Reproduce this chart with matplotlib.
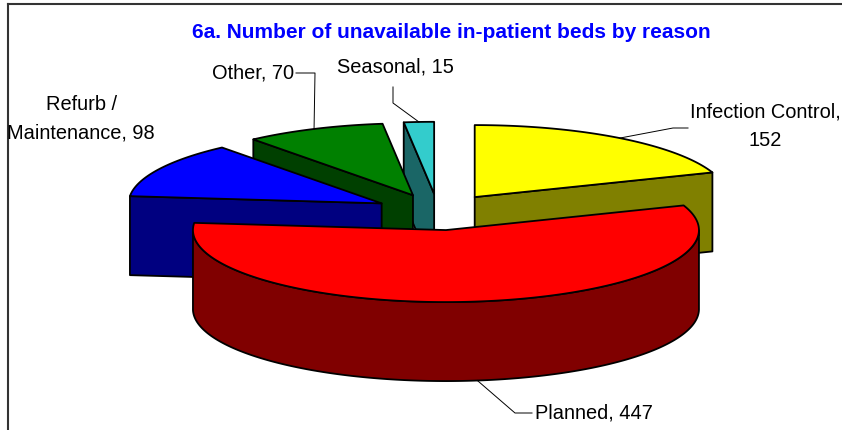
import textwrap
import numpy as np
import matplotlib
matplotlib.use("Agg")
import matplotlib.pyplot as plt
from matplotlib.patches import Polygon

# --- Data ---
categories = ["Infection Control", "Planned", "Refurb / Maintenance", "Other", "Seasonal"]
values = [152, 447, 98, 70, 15]
top_colors = ["#FFFF00", "#FF0000", "#0000FF", "#008000", "#33CCCC"]
side_colors = ["#808000", "#800000", "#000080", "#004000", "#1A6666"]
title = "6a. Number of unavailable in-patient beds by reason"

# --- Pie geometry (pixel units, y grows downwards) ---
CX, CY = 438, 212      # pie centre before explosion
RX, RY = 253, 72       # ellipse radii of the tilted disc
DEPTH = 79             # thickness of the disc
EXPLODE = 64           # how far each slice is pulled out

plt.rcParams['font.family'] = ['Liberation Sans', 'DejaVu Sans']

fig = plt.figure(figsize=(8.42, 4.30), dpi=100)
ax = fig.add_axes([0, 0, 1, 1])
ax.set_xlim(0, 842)
ax.set_ylim(430, 0)
ax.axis('off')

frac = np.array(values) / sum(values)
ends = 90 - 360 * np.cumsum(frac)      # slices run clockwise from 12 o'clock
starts = ends + 360 * frac
mids = (starts + ends) / 2


def rim(ox, oy, ang):
    a = np.radians(ang)
    return ox + RX * np.cos(a), oy - RY * np.sin(a)


def origin(mid):
    a = np.radians(mid)
    return CX + EXPLODE * np.cos(a), CY - EXPLODE * (RY / RX) * np.sin(a)


edge_kw = dict(edgecolor='black', linewidth=1.3, joinstyle='round')

# draw from the back of the disc to the front
order = np.argsort(-np.sin(np.radians(mids)))
for i in order:
    a1, a2, mid = starts[i], ends[i], mids[i]
    ox, oy = origin(mid)

    # flat radial faces (only those turned towards the viewer)
    for phi, normal in [(a1, a1 + 90), (a2, a2 - 90)]:
        if np.sin(np.radians(normal)) < -1e-6:
            px, py = rim(ox, oy, phi)
            quad = [(ox, oy), (px, py), (px, py + DEPTH), (ox, oy + DEPTH)]
            ax.add_patch(Polygon(quad, closed=True, facecolor=side_colors[i], **edge_kw))

    # curved outer wall, front half only
    angs = np.linspace(a1, a2, 400)
    front = np.sin(np.radians(angs)) <= 1e-9
    runs = np.split(angs, np.where(np.diff(front.astype(int)) != 0)[0] + 1)
    for run in runs:
        if len(run) < 2 or np.sin(np.radians(run.mean())) > 0:
            continue
        xs, ys = rim(ox, oy, run)
        pts = list(zip(xs, ys)) + list(zip(xs[::-1], ys[::-1] + DEPTH))
        ax.add_patch(Polygon(pts, closed=True, facecolor=side_colors[i], **edge_kw))

    # top face
    xs, ys = rim(ox, oy, np.linspace(a1, a2, 200))
    pts = [(ox, oy)] + list(zip(xs, ys))
    ax.add_patch(Polygon(pts, closed=True, facecolor=top_colors[i], **edge_kw))

# --- Data labels with leader lines ---
labels = [textwrap.fill(f"{c}, {v}", 18) for c, v in zip(categories, values)]
label_pos = [(765, 112, 'center'), (535, 413, 'left'), (81, 104, 'center'),
             (294, 73, 'right'), (337, 67, 'left')]
leaders = [[(688, 128), (673, 128)], [(532, 413), (515, 413)], None,
           [(296, 73), (315, 73)], [(393, 87), (393, 103)]]

for i, lab in enumerate(labels):
    x, y, ha = label_pos[i]
    for j, line in enumerate(lab.split("\n")):
        ax.text(x, y + 29 * j, line, fontsize=14.4, ha=ha, va='center', color='black')
    if leaders[i] is None:
        continue
    ox, oy = origin(mids[i])
    if i == 1:
        ax_pt = rim(ox, oy + DEPTH, mids[i])
    else:
        ax_pt = rim(ox, oy, mids[i])
    path = leaders[i] + [ax_pt]
    ax.plot([p[0] for p in path], [p[1] for p in path], color='black', lw=0.7)

ax.text(451, 32, title, fontsize=15, fontweight='bold', color='#0000FF',
        ha='center', va='center')

# chart area frame (top and left edges visible)
ax.plot([8, 842], [3.5, 3.5], color='#333333', lw=1.5)
ax.plot([8, 8], [3.5, 430], color='#333333', lw=1.5)

plt.savefig('out.png', dpi=100)
